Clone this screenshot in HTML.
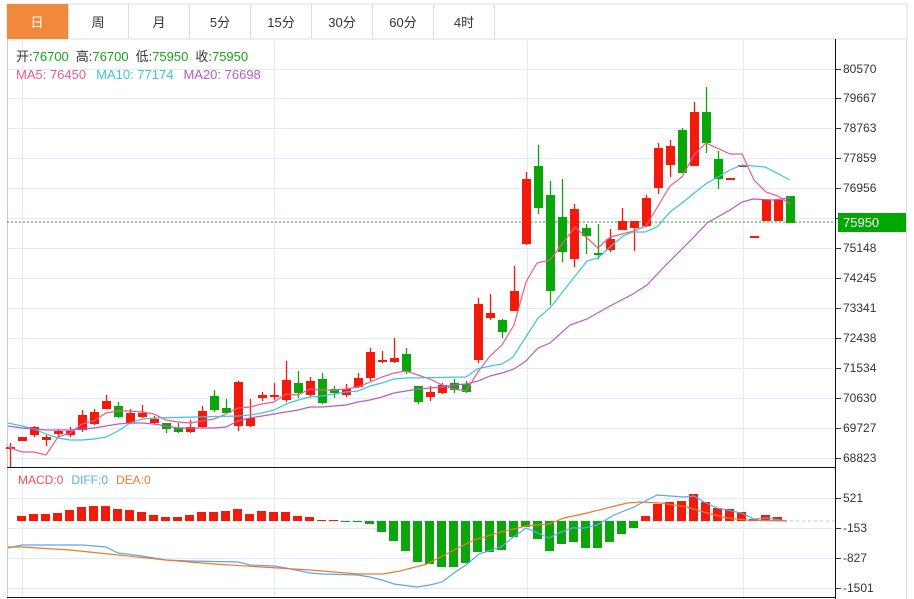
<!DOCTYPE html>
<html><head><meta charset="utf-8"><style>
body{margin:0;background:#fff;width:914px;height:599px;overflow:hidden;font-family:"Liberation Sans","Noto Sans CJK SC",sans-serif;}
svg{position:absolute;left:0;top:0}
text{font-family:"Liberation Sans","Noto Sans CJK SC",sans-serif}
</style></head><body>
<svg id="s" width="914" height="599" xmlns="http://www.w3.org/2000/svg">
<g id="grid" stroke="#e3ebf2" stroke-width="1"></g>
<rect x="7" y="4" width="900" height="35" fill="#fff" stroke="#ddd"/>
<rect x="7" y="4" width="61" height="35" fill="#f0893c"/>
<g stroke="#ddd"><line x1="128.5" y1="4" x2="128.5" y2="39"/><line x1="189.5" y1="4" x2="189.5" y2="39"/><line x1="250.5" y1="4" x2="250.5" y2="39"/><line x1="311.5" y1="4" x2="311.5" y2="39"/><line x1="372.5" y1="4" x2="372.5" y2="39"/><line x1="433.5" y1="4" x2="433.5" y2="39"/><line x1="494.5" y1="4" x2="494.5" y2="39"/><line x1="68.5" y1="4" x2="68.5" y2="39"/></g>
<g font-size="13" text-anchor="middle" fill="#333">
<text x="37" y="27" fill="#fff">日</text><text x="98" y="27">周</text><text x="159" y="27">月</text><text x="220" y="27">5分</text><text x="281" y="27">15分</text><text x="342" y="27">30分</text><text x="403" y="27">60分</text><text x="464" y="27">4时</text></g>
<line x1="7.5" y1="39" x2="7.5" y2="599" stroke="#ccc"/>
<line x1="906.5" y1="39" x2="906.5" y2="599" stroke="#ddd"/>
<line x1="7" y1="467.5" x2="836" y2="467.5" stroke="#111"/>
<line x1="7" y1="597.5" x2="836" y2="597.5" stroke="#111"/>
<line x1="835.5" y1="39" x2="835.5" y2="599" stroke="#111"/>
<g id="ticks" font-size="12" fill="#333"></g>
<line x1="7" y1="222" x2="835" y2="222" stroke="#1aa31a" stroke-dasharray="2,2"/>
<line x1="322" y1="521" x2="835" y2="521" stroke="#9fd3ef" stroke-dasharray="3,3"/>
<g id="c"></g>
<g id="l" fill="none" stroke-width="1.2"></g>
<rect x="838" y="213" width="68" height="19" fill="#00a800"/>
<text x="843" y="227" font-size="13" fill="#fff">75950</text>
<g font-size="13">
<text x="16" y="61"><tspan fill="#333">开:</tspan><tspan fill="#1aa31a">76700</tspan><tspan fill="#333" dx="7">高:</tspan><tspan fill="#1aa31a">76700</tspan><tspan fill="#333" dx="7">低:</tspan><tspan fill="#1aa31a">75950</tspan><tspan fill="#333" dx="7">收:</tspan><tspan fill="#1aa31a">75950</tspan></text>
<text x="16" y="79"><tspan fill="#ec5b8c">MA5: 76450</tspan><tspan fill="#3cc4dc" dx="10">MA10: 77174</tspan><tspan fill="#b55cc8" dx="10">MA20: 76698</tspan></text>
</g>
<text x="18" y="484" font-size="12"><tspan fill="#e85050">MACD:0</tspan><tspan fill="#5aa8e8" dx="8">DIFF:0</tspan><tspan fill="#f07830" dx="8">DEA:0</tspan></text>
</svg>
<script>
var NS="http://www.w3.org/2000/svg";
function el(p,t,a){var e=document.createElementNS(NS,t);for(var k in a)e.setAttribute(k,a[k]);document.getElementById(p).appendChild(e);return e;}
var py=[69,98,128,158,188,218,248,278,308,338,368,398,428,458];
var pl=["80570","79667","78763","77859","76956","","75148","74245","73341","72438","71534","70630","69727","68823"];
py.forEach(function(y,i){el("grid","line",{x1:7,x2:835,y1:y+.5,y2:y+.5});el("ticks","line",{x1:836,x2:841,y1:y+.5,y2:y+.5,stroke:"#333"});if(pl[i]){var t=el("ticks","text",{x:843,y:y+4});t.textContent=pl[i];}});
var my=[498,528,558,588],ml=["521","-153","-827","-1501"];
my.forEach(function(y,i){el("grid","line",{x1:7,x2:835,y1:y+.5,y2:y+.5});el("ticks","line",{x1:836,x2:841,y1:y+.5,y2:y+.5,stroke:"#333"});var t=el("ticks","text",{x:843,y:y+4});t.textContent=ml[i];});
[22,274,527,743].forEach(function(x){el("grid","line",{x1:x+.5,x2:x+.5,y1:40,y2:597});});
// [top,bottom,hi,lo,color r/g]
var C=[[447,449,443,467,'r'],[437,441,437,441,'r'],[427,435,426,437,'r'],[437,440,435,446,'r'],[431,434,429,438,'r'],[431,435,427,437,'r'],[415,430,410,432,'r'],[412,424,409,425,'r'],[401,409,395,409,'r'],[406,417,402,418,'g'],[413,423,409,424,'r'],[413,417,405,418,'r'],[419,423,416,424,'r'],[423,429,423,433,'g'],[428,432,423,433,'g'],[427,432,420,433,'r'],[411,427,406,428,'r'],[396,410,390,412,'g'],[408,413,399,413,'g'],[382,426,381,431,'r'],[418,426,399,427,'r'],[395,398,392,401,'r'],[395,397,383,400,'r'],[380,400,361,402,'r'],[383,393,371,398,'g'],[381,395,377,397,'r'],[379,403,373,404,'g'],[389,393,386,398,'g'],[389,395,384,397,'r'],[378,387,373,388,'r'],[352,378,348,381,'r'],[360,362,351,363,'r'],[358,362,338,363,'r'],[354,372,348,374,'g'],[386,402,386,404,'g'],[392,397,386,401,'r'],[385,393,383,394,'r'],[383,390,379,393,'g'],[384,392,381,393,'g'],[304,360,298,363,'r'],[313,318,294,320,'r'],[320,332,319,338,'g'],[291,311,266,311,'r'],[179,244,172,245,'r'],[166,208,145,214,'g'],[195,291,181,305,'g'],[217,252,179,262,'g'],[209,259,204,267,'r'],[228,236,224,254,'g'],[253,254,224,259,'g'],[239,250,229,252,'r'],[221,230,208,230,'r'],[221,228,221,251,'r'],[198,226,195,227,'r'],[148,188,143,194,'r'],[146,165,140,177,'r'],[130,173,128,173,'g'],[112,166,102,166,'r'],[112,143,87,153,'g'],[159,179,151,189,'g'],[178,179,178,179,'r'],[165,166,165,166,'r'],[236,237,236,237,'r'],[200,221,200,221,'r'],[200,221,200,221,'r'],[196,223,196,223,'g']];
C.forEach(function(c,i){var x=10.5+12*i,col=c[4]=='r'?'#f21a0a':'#0aa60a';
el("c","line",{x1:x,x2:x,y1:c[2],y2:c[3],stroke:col,"stroke-width":1.3});
el("c","rect",{x:x-4.5,y:c[0],width:9,height:Math.max(2,c[1]-c[0]),fill:col});});
// macd bars
var M={22:516,34:514,46:514,58:513,70:510,82:507,94:506,106:506,118:509,130:510,142:512,154:515,166:517,178:517,190:515,202:512,214:512,226:511,238:509,250:514,262:511,274:512,286:512,298:516,310:517,322:520,334:520,346:522,358:522,370:524,382:532,394:541,406:551,418:562,430:564,442:567,454:567,466:563,478:552,490:552,502:550,514:537,526:527,538:539,550:551,562:544,574:542,586:548,598:548,610:542,622:534,634:528,646:516,658:504,670:502,682:501,694:494,706:502,718:508,730:509,742:512,754:519,766:515,778:517};
for(var k in M){var x=+k-0.5,y=M[k],z=521;if(y<z)el("c","rect",{x:x-4.5,y:y,width:9,height:z-y,fill:"#f21a0a"});else el("c","rect",{x:x-4.5,y:z,width:9,height:Math.max(1,y-z),fill:"#0aa60a"});}
function pline(pts,col){el("l","polyline",{points:pts,stroke:col});}
pline("8,447 22,452 34,452 46,455 58,437 70,433 82,424 94,421 106,413 118,411 130,411 142,412 154,414 166,420 178,422 190,423 202,421 214,419 226,414 238,408 250,407 262,404 274,402 286,394 298,395 310,389 322,390 334,390 346,389 358,387 370,382 382,377 394,373 406,371 418,375 430,379 442,385 454,389 466,391 478,372 490,356 502,345 514,325 526,282 537,263 550,260 575,227 598,248 610,237 634,231 646,226 670,186 682,177 694,155 706,143 730,154 742,154 754,180 766,192 778,196 790,204","#ec5b8c");
pline("8,423 22,426 34,429 46,434 58,438 70,440 82,440 94,439 106,437 118,431 130,423 142,419 154,418 238,416 250,415 262,413 274,410 286,404 298,400 310,397 322,396 334,394 346,392 358,391 370,386 382,383 394,379 406,378 466,377 477,369 490,366 502,364 513,357 538,318 550,308 572,280 587,261 598,258 610,247 623,236 633,232 645,232 657,227 670,212 682,203 693,194 707,183 718,177 730,170 742,165 765,167 790,180","#3cc4dc");
pline("8,426 22,428 34,429 46,430 70,430 82,429 94,428 106,426 118,424 130,423 142,423 154,424 166,426 178,428 214,428 226,427 238,421 250,418 262,416 274,414 286,412 298,410 310,407 322,407 334,406 346,405 358,402 370,400 382,397 394,393 406,391 418,389 430,388 442,387 454,385 466,384 478,381 490,376 502,373 514,369 526,361 538,348 550,343 570,325 587,319 610,306 633,294 647,285 663,268 680,251 694,237 707,223 730,210 742,202 753,199 773,200 790,198","#b55cc8");
pline("8,548 22,545 46,545 82,545 94,546 106,547 118,553 142,556 166,560 190,561 238,562 250,565 274,566 286,568 310,573 322,574 358,575 370,577 382,580 394,584 417,587 430,585 442,582 454,573 466,565 479,554 501,547 512,538 526,528 549,538 561,532 572,528 584,528 597,525 614,515 634,507 657,495 684,497 694,496 704,502 717,508 741,513 754,519 767,518 787,521","#5aa8e8");
pline("8,547 22,547 70,550 118,555 166,560 214,564 262,567 310,570 358,574 383,574 400,571 427,564 454,550 474,540 501,532 526,526 549,524 564,518 587,513 611,507 627,503 641,502 661,503 687,507 707,513 727,518 747,520 787,521","#f07830");
</script>
</body></html>
